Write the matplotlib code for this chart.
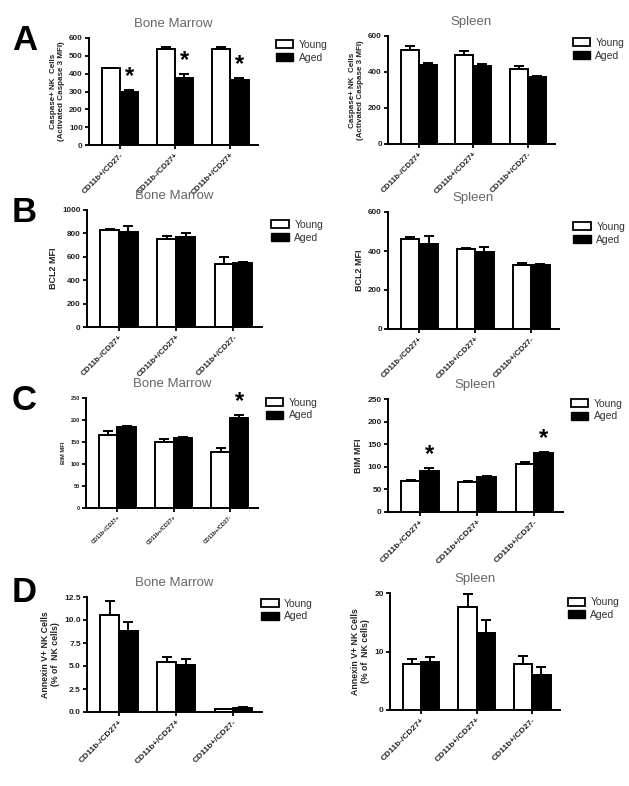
import numpy as np
import matplotlib.pyplot as plt
from matplotlib.patches import Patch

plt.rcParams['font.family'] = ['Liberation Sans', 'DejaVu Sans']

# etiketler
kat_a_bm = ['CD11b+/CD27-', 'CD11b-/CD27+', 'CD11b+/CD27+']
kat_std = ['CD11b-/CD27+', 'CD11b+/CD27+', 'CD11b+/CD27-']

# A - kaspaz
a_bm_young = [430, 540, 540]
a_bm_young_err = [3, 12, 12]
a_bm_aged = [300, 378, 362]
a_bm_aged_err = [8, 22, 15]
a_sp_young = [520, 497, 418]
a_sp_young_err = [25, 22, 18]
a_sp_aged = [440, 435, 370]
a_sp_aged_err = [12, 10, 10]

# B - BCL2
b_bm_young = [825, 755, 540]
b_bm_young_err = [15, 25, 55]
b_bm_aged = [815, 770, 548]
b_bm_aged_err = [45, 30, 8]
b_sp_young = [462, 412, 330]
b_sp_young_err = [8, 3, 10]
b_sp_aged = [437, 395, 327]
b_sp_aged_err = [40, 25, 6]

# C - BIM
c_bm_young = [167, 150, 128]
c_bm_young_err = [8, 6, 9]
c_bm_aged = [183, 160, 205]
c_bm_aged_err = [4, 2, 6]
c_sp_young = [68, 66, 106]
c_sp_young_err = [3, 3, 4]
c_sp_aged = [90, 77, 131]
c_sp_aged_err = [7, 2, 2]

# D - Annexin V
d_bm_young = [10.5, 5.4, 0.3]
d_bm_young_err = [1.6, 0.6, 0.05]
d_bm_aged = [8.8, 5.1, 0.4]
d_bm_aged_err = [1.0, 0.7, 0.1]
d_sp_young = [7.9, 17.6, 7.9]
d_sp_young_err = [0.9, 2.2, 1.3]
d_sp_aged = [8.2, 13.1, 6.0]
d_sp_aged_err = [0.9, 2.3, 1.4]

fig = plt.figure(figsize=(6.29, 7.86), dpi=100)
W, H = 629.0, 786.0


def eksen(x0, x1, ytop, ybot):
    # piksel -> figur orani
    return fig.add_axes([x0 / W, 1 - ybot / H, (x1 - x0) / W, (ybot - ytop) / H])


def panel(ax, kat, young, yerr, aged, aerr, yticks, ylabel, title, yildiz=(),
          tfs=5.8, lfs=6.0, leg=(1.08, 1.02), ytl=None):
    x = np.arange(len(kat))
    w = 0.33
    # sadece ust hata cubugu (graphpad gibi)
    ek = dict(ecolor='black', elinewidth=1.4, capsize=3.5, capthick=1.4)
    ax.bar(x - w / 2, young, w, color='white', edgecolor='black', linewidth=1.4,
           yerr=[np.zeros(len(yerr)), yerr], error_kw=ek)
    ax.bar(x + w / 2, aged, w, color='black', edgecolor='black', linewidth=1.4,
           yerr=[np.zeros(len(aerr)), aerr], error_kw=ek)
    for i in yildiz:
        ax.text(x[i] + w / 2, aged[i] + aerr[i] + yticks[-1] * 0.015, '*', ha='center', va='bottom',
                fontsize=17, fontweight='bold')
    ax.set_xlim(-0.56, 2.5)
    ax.set_ylim(0, yticks[-1])
    ax.set_yticks(yticks)
    if ytl is not None:
        ax.set_yticklabels(ytl)
    ax.set_xticks(x)
    ax.set_xticklabels(kat, rotation=45, ha='right', rotation_mode='anchor',
                       fontsize=tfs, fontweight='bold', color='#222222')
    for lab in ax.get_yticklabels():
        lab.set_fontsize(tfs)
        lab.set_fontweight('bold')
        lab.set_color('#222222')
    ax.spines['top'].set_visible(False)
    ax.spines['right'].set_visible(False)
    ax.spines['left'].set_linewidth(1.4)
    ax.spines['bottom'].set_linewidth(1.4)
    ax.tick_params(axis='both', width=1.3, length=3, pad=1.5)
    ax.set_ylabel(ylabel, fontsize=lfs, fontweight='bold', color='#222222', labelpad=3)
    ax.set_title(title, fontsize=9.5, color='#666666', pad=8)
    hs = [Patch(facecolor='white', edgecolor='black', linewidth=1.3),
          Patch(facecolor='black', edgecolor='black')]
    ax.legend(hs, ['Young', 'Aged'], loc='upper left', bbox_to_anchor=leg, frameon=False,
              fontsize=7.5, handlelength=1.7, handleheight=0.8, labelspacing=0.25,
              borderaxespad=0, handletextpad=0.5, labelcolor='#333333')


# A
ax = eksen(89, 258, 38, 145)
panel(ax, kat_a_bm, a_bm_young, a_bm_young_err, a_bm_aged, a_bm_aged_err,
      [0, 100, 200, 300, 400, 500, 600], 'Caspase+ NK  Cells\n(Activated Caspase 3 MFI)',
      'Bone Marrow', yildiz=(0, 1, 2), lfs=5.8)
ax = eksen(388, 555, 36, 144)
panel(ax, kat_std, a_sp_young, a_sp_young_err, a_sp_aged, a_sp_aged_err,
      [0, 200, 400, 600], 'Caspase+ NK  Cells\n(Activated Caspase 3 MFI)', 'Spleen', lfs=5.8)

# B
ax = eksen(87, 262, 210, 327)
panel(ax, kat_std, b_bm_young, b_bm_young_err, b_bm_aged, b_bm_aged_err,
      [0, 200, 400, 600, 800, 1000], 'BCL2 MFI', 'Bone Marrow', lfs=6.5, leg=(1.03, 0.95))
ax = eksen(388, 559, 212, 329)
panel(ax, kat_std, b_sp_young, b_sp_young_err, b_sp_aged, b_sp_aged_err,
      [0, 200, 400, 600], 'BCL2 MFI', 'Spleen', lfs=6.5, leg=(1.06, 0.95))

# C
ax = eksen(86, 258, 398, 508)
panel(ax, kat_std, c_bm_young, c_bm_young_err, c_bm_aged, c_bm_aged_err,
      [0, 50, 100, 150, 200, 250], 'BIM MFI', 'Bone Marrow', yildiz=(2,),
      tfs=4.0, lfs=4.2, leg=(1.02, 1.04))
ax = eksen(388, 563, 399, 512)
panel(ax, kat_std, c_sp_young, c_sp_young_err, c_sp_aged, c_sp_aged_err,
      [0, 50, 100, 150, 200, 250], 'BIM MFI', 'Spleen', yildiz=(0, 2),
      tfs=6.0, lfs=6.5, leg=(1.02, 1.04))

# D
ax = eksen(87, 262, 597, 712)
panel(ax, kat_std, d_bm_young, d_bm_young_err, d_bm_aged, d_bm_aged_err,
      [0.0, 2.5, 5.0, 7.5, 10.0, 12.5], 'Annexin V+ NK Cells\n(% of  NK cells)', 'Bone Marrow',
      tfs=6.0, lfs=6.3, leg=(0.97, 1.02), ytl=['0.0', '2.5', '5.0', '7.5', '10.0', '12.5'])
ax = eksen(390, 560, 593, 710)
panel(ax, kat_std, d_sp_young, d_sp_young_err, d_sp_aged, d_sp_aged_err,
      [0, 10, 20], 'Annexin V+ NK Cells\n(% of  NK cells)', 'Spleen',
      tfs=6.0, lfs=6.3, leg=(1.02, 1.0))

# panel harfleri
for harf, yy in [('A', 40), ('B', 212), ('C', 400), ('D', 592)]:
    fig.text(12 / W, 1 - yy / H, harf, fontsize=25, fontweight='bold', va='center', ha='left')

fig.savefig('out.png', dpi=100)
